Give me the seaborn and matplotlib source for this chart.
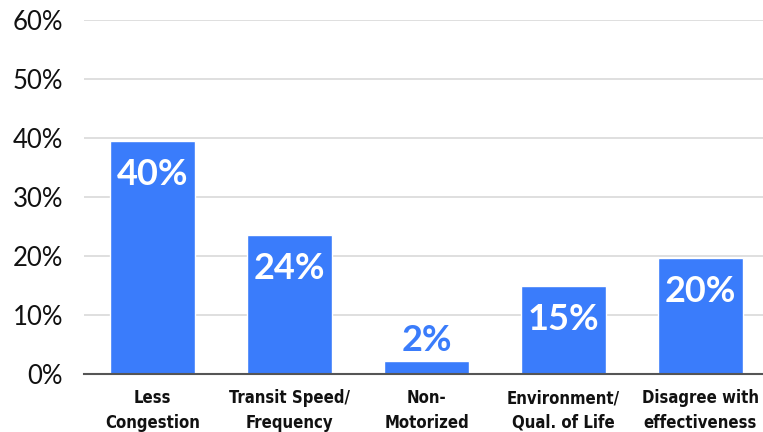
import matplotlib
matplotlib.use("Agg")
import matplotlib.pyplot as plt
import seaborn as sns
import pandas as pd
from matplotlib.ticker import FixedLocator, PercentFormatter

categories = ["Less\nCongestion", "Transit Speed/\nFrequency", "Non-\nMotorized",
              "Environment/\nQual. of Life", "Disagree with\neffectiveness"]
values = [39.5, 23.6, 2.2, 14.9, 19.7]
value_labels = ["40%", "24%", "2%", "15%", "20%"]
y_ticks = [0, 10, 20, 30, 40, 50, 60]

bar_color = "#3a7cfb"

sns.set_theme(style="white")
plt.rcParams["font.family"] = ["Lato", "DejaVu Sans"]

df = pd.DataFrame({"category": categories, "value": values})

fig = plt.figure(figsize=(7.63, 4.32), dpi=100)
ax = fig.add_axes([84 / 763, 0.134, (769 - 84) / 763, 0.82])

sns.barplot(data=df, x="category", y="value", color=bar_color, saturation=1,
            width=0.62, ax=ax, zorder=2)

ax.set_ylim(0, 60)
ax.set_xlim(-0.5, len(categories) - 0.5)
ax.yaxis.set_major_locator(FixedLocator(y_ticks))
ax.yaxis.set_major_formatter(PercentFormatter(decimals=0))
ax.grid(axis="y", color="#d9d9d9", linewidth=1.2, zorder=0)
ax.set_axisbelow(True)
ax.set_xlabel("")
ax.set_ylabel("")

for s in ["top", "right", "left"]:
    ax.spines[s].set_visible(False)
ax.spines["bottom"].set_color("#555555")
ax.spines["bottom"].set_linewidth(1.5)

ax.tick_params(axis="y", length=0, pad=15, labelsize=18.5, labelcolor="#111111")
ax.tick_params(axis="x", which="major", length=0, pad=11)
ax.set_xticks([i - 0.5 for i in range(len(categories) + 1)], minor=True)
ax.tick_params(axis="x", which="minor", length=4, width=1.2, color="#555555",
               direction="out")
for lbl in ax.get_xticklabels():
    lbl.set_fontweight("bold")
    lbl.set_family("DejaVu Sans")
    lbl.set_fontstretch("condensed")
    lbl.set_fontsize(12)
    lbl.set_color("#111111")
    lbl.set_linespacing(1.45)

for i, (v, t) in enumerate(zip(values, value_labels)):
    if v > 8:
        ax.annotate(t, xy=(i, v), xytext=(0, -24), textcoords="offset points",
                    ha="center", va="center", color="white", fontsize=26,
                    fontweight="bold")
    else:
        ax.annotate(t, xy=(i, v), xytext=(0, 15), textcoords="offset points",
                    ha="center", va="center", color=bar_color, fontsize=26,
                    fontweight="bold")

fig.savefig("out.png", dpi=100)
